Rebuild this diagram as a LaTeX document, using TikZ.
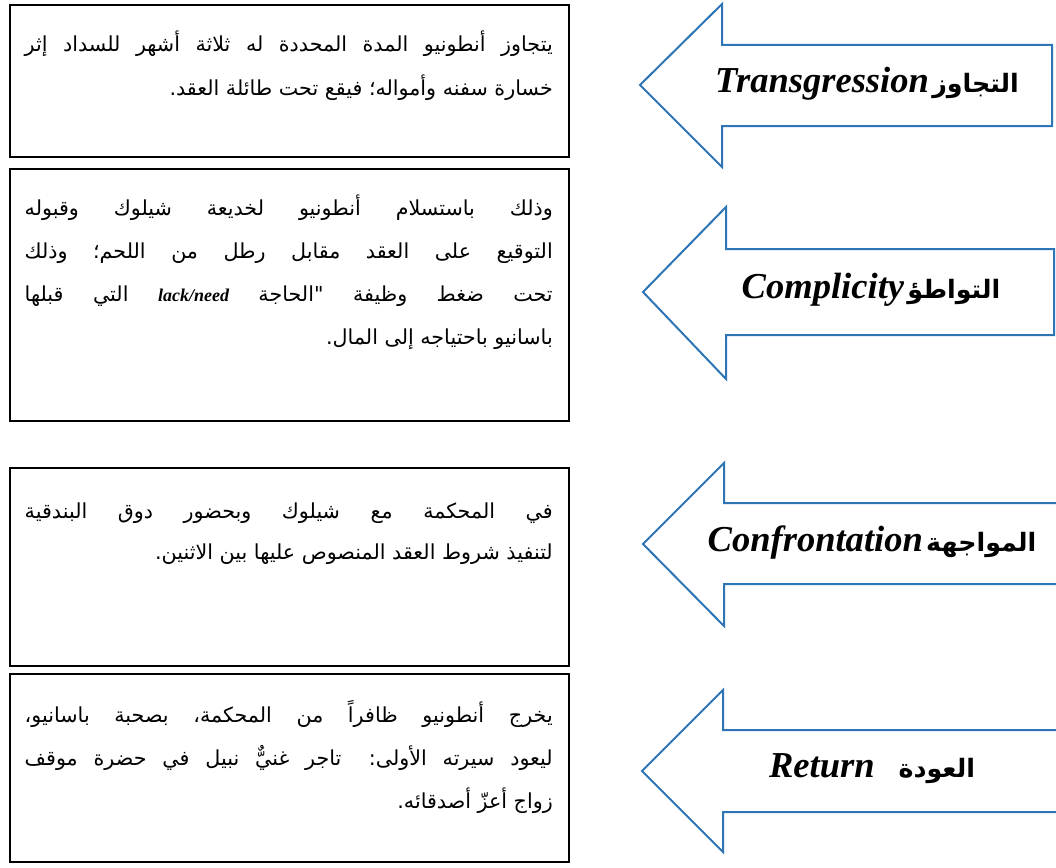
\documentclass[tikz,border=0pt]{standalone}
\usepackage{fontspec}
\usetikzlibrary{fit}
\setmainfont{Liberation Serif}
\newfontfamily\arabicfont[Script=Arabic]{DejaVu Sans}
\TeXXeTstate=1

% width of a text line inside a panel
\newlength\linew
\setlength\linew{396pt}
% justified line and right-aligned closing line (right to left)
\newcommand\fullline[1]{\hbox to \linew{\beginR #1\endR}}
\newcommand\lastline[1]{\hbox to \linew{\hfil\beginR #1\endR}}
% Latin term set in bold italic serif inside Arabic text
\newcommand\latterm[1]{\beginL{\rmfamily\bfseries\itshape\fontsize{13.5}{16}\selectfont #1}\endL}
% Latin name of a stage, on an arrow
\newcommand\stagename[1]{\beginL{\rmfamily\bfseries\itshape\fontsize{27.4}{30}\selectfont #1}\endL}
% Arabic name of a stage, on an arrow
\newcommand\arlabel[1]{{\arabicfont\bfseries\fontsize{19}{24}\selectfont #1}}

\definecolor{arrowblue}{RGB}{46,117,182}

\tikzset{
  panel/.style={draw=black, line width=1.4pt, inner sep=0pt, fill=white},
  panetext/.style={font=\arabicfont\fontsize{15.5}{32.25}\selectfont, inner sep=0pt, anchor=base east},
  blockarrow/.style={draw=arrowblue, line width=1.5pt, line join=miter, fill=white},
  arrowlabel/.style={inner sep=0pt, anchor=base},
}

\begin{document}
\begin{tikzpicture}[x=0.75pt, y=-0.75pt]
\useasboundingbox (0,0) rectangle (1056,867);

% ---------- text panels ----------
\coordinate (p1a) at (10,5);   \coordinate (p1b) at (569,157);
\coordinate (p2a) at (10,169); \coordinate (p2b) at (569,421);
\coordinate (p3a) at (10,468); \coordinate (p3b) at (569,666);
\coordinate (p4a) at (10,674); \coordinate (p4b) at (569,862);
\node[panel, fit=(p1a)(p1b)] (box1) {};
\node[panel, fit=(p2a)(p2b)] (box2) {};
\node[panel, fit=(p3a)(p3b)] (box3) {};
\node[panel, fit=(p4a)(p4b)] (box4) {};

\node[panetext] (txt1) at (553,52) {\vtop{\baselineskip=32.25pt
  \fullline{يتجاوز أنطونيو المدة المحددة له ثلاثة أشهر للسداد إثر}
  \lastline{خسارة سفنه وأمواله؛ فيقع تحت طائلة العقد.}}};

\node[panetext] (txt2) at (553,215) {\vtop{\baselineskip=32.25pt
  \fullline{وذلك باستسلام أنطونيو لخديعة شيلوك وقبوله}
  \fullline{التوقيع على العقد مقابل رطل من اللحم؛ وذلك}
  \fullline{تحت ضغط وظيفة "الحاجة \latterm{lack/need} التي قبلها}
  \lastline{باسانيو باحتياجه إلى المال.}}};

\node[panetext] (txt3) at (553,518) {\vtop{\baselineskip=31pt
  \fullline{في المحكمة مع شيلوك وبحضور دوق البندقية}
  \lastline{لتنفيذ شروط العقد المنصوص عليها بين الاثنين.}}};

\node[panetext] (txt4) at (553,722) {\vtop{\baselineskip=32.25pt
  \fullline{يخرج أنطونيو ظافراً من المحكمة، بصحبة باسانيو،}
  \fullline{ليعود سيرته الأولى: تاجر غنيٌّ نبيل في حضرة موقف}
  \lastline{زواج أعزّ أصدقائه.}}};

% ---------- block arrows pointing left ----------
\draw[blockarrow] (640,85) -- (722,4) -- (722,45) -- (1052,45) -- (1052,126)
  -- (722,126) -- (722,167) -- cycle;
\draw[blockarrow] (643,292) -- (726,207) -- (726,249) -- (1054,249) -- (1054,335)
  -- (726,335) -- (726,379) -- cycle;
\draw[blockarrow] (643,544) -- (724,463) -- (724,503) -- (1062,503) -- (1062,584)
  -- (724,584) -- (724,626) -- cycle;
\draw[blockarrow] (642,771) -- (723,690) -- (723,730) -- (1062,730) -- (1062,812)
  -- (723,812) -- (723,852) -- cycle;

\node[arrowlabel] (lab1) at (867,93)
  {\beginR\arlabel{التجاوز} \stagename{Transgression}\endR};
\node[arrowlabel] (lab2) at (871,298)
  {\beginR\arlabel{التواطؤ} \stagename{Complicity}\endR};
\node[arrowlabel] (lab3) at (872,551)
  {\beginR\arlabel{المواجهة} \stagename{Confrontation}\endR};
\node[arrowlabel] (lab4) at (872,777)
  {\beginR\arlabel{العودة}\hspace{18pt}\stagename{Return}\endR};
\end{tikzpicture}
\end{document}
